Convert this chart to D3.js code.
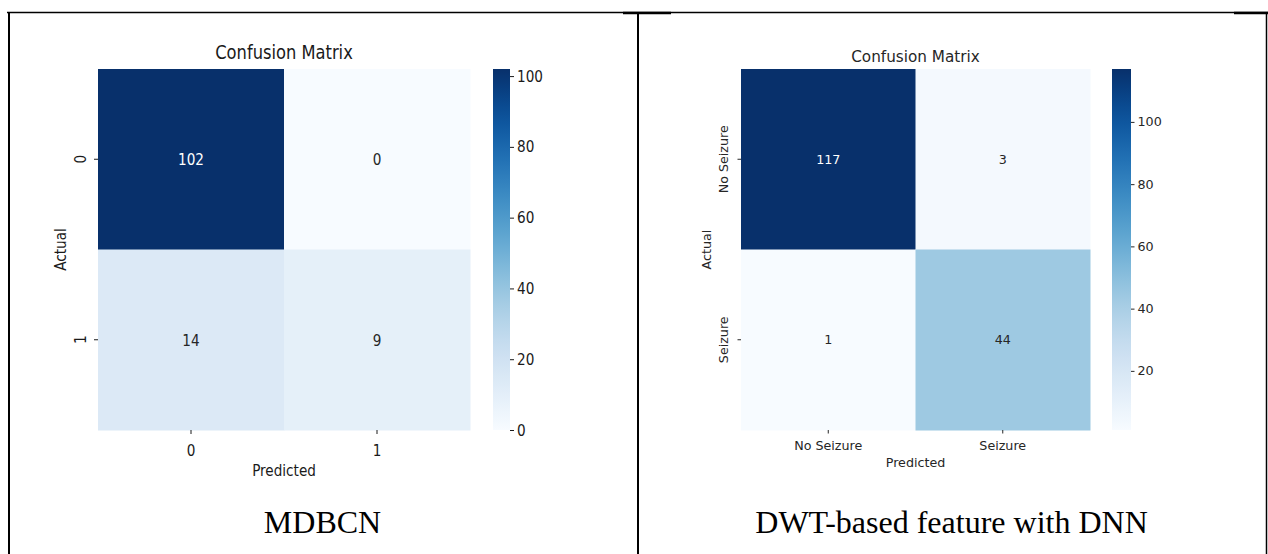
<!DOCTYPE html>
<html>
<head>
<meta charset="utf-8">
<script src="https://cdn.jsdelivr.net/npm/d3@7"></script>
<style>
  html, body { margin: 0; padding: 0; background: #fff; }
  svg { display: block; }
  text { font-family: "DejaVu Sans", sans-serif; }
  text.caption { font-family: "Liberation Serif", "Times New Roman", serif; }
</style>
</head>
<body>
<svg id="fig" width="1268" height="554"></svg>
<script>
// ---- data ----
const mdbcnClasses = ["0", "1"];
const mdbcnMatrix = [[102, 0], [14, 9]];
const mdbcnTicks = [0, 20, 40, 60, 80, 100];
const mdbcnRange = [0, 102];

const dwtClasses = ["No Seizure", "Seizure"];
const dwtMatrix = [[117, 3], [1, 44]];
const dwtTicks = [20, 40, 60, 80, 100];
const dwtRange = [1, 117];

const panelTitle = "Confusion Matrix";
const xLabel = "Predicted";
const yLabel = "Actual";
const captions = ["MDBCN", "DWT-based feature with DNN"];

const svg = d3.select("#fig");

// ---- table frame ----
const frame = svg.append("g").attr("stroke", "#000");
frame.append("line").attr("x1", 7).attr("x2", 1268).attr("y1", 12.5).attr("y2", 12.5).attr("stroke-width", 1.5);
frame.append("line").attr("x1", 9).attr("x2", 9).attr("y1", 12).attr("y2", 554).attr("stroke-width", 2);
frame.append("line").attr("x1", 638).attr("x2", 638).attr("y1", 12).attr("y2", 554).attr("stroke-width", 2);
frame.append("line").attr("x1", 1266.5).attr("x2", 1266.5).attr("y1", 12).attr("y2", 554).attr("stroke-width", 1.5);
frame.append("line").attr("x1", 623).attr("x2", 671).attr("y1", 13).attr("y2", 13).attr("stroke-width", 2.5);
frame.append("line").attr("x1", 1234).attr("x2", 1268).attr("y1", 13).attr("y2", 13).attr("stroke-width", 2.5);

// draws one seaborn-style heatmap panel
function heatmap(cfg) {
  const g = svg.append("g");
  const sx = cfg.sx; // horizontal squeeze of the text
  const textCol = cfg.textCol;

  const x = d3.scaleBand().domain(cfg.classes).range([cfg.x0, cfg.x1]);
  const y = d3.scaleBand().domain(cfg.classes).range([cfg.y0, cfg.y1]);
  const color = d3.scaleSequential(d3.interpolateBlues).domain(cfg.range);

  const cells = [];
  cfg.matrix.forEach((row, i) => row.forEach((v, j) => cells.push({r: cfg.classes[i], c: cfg.classes[j], v})));

  g.selectAll("rect.cell").data(cells).join("rect")
    .attr("class", "cell")
    .attr("x", d => x(d.c)).attr("y", d => y(d.r))
    .attr("width", x.bandwidth() + 0.5).attr("height", y.bandwidth() + 0.5)
    .attr("fill", d => color(d.v));

  const mid = (cfg.range[0] + cfg.range[1]) / 2;
  g.selectAll("text.ann").data(cells).join("text")
    .attr("class", "ann")
    .attr("transform", d => `translate(${x(d.c) + x.bandwidth() / 2},${y(d.r) + y.bandwidth() / 2}) scale(${sx},1)`)
    .attr("text-anchor", "middle").attr("dy", "0.36em")
    .attr("font-size", cfg.fs)
    .attr("fill", d => d.v > mid ? "#ffffff" : "#262626")
    .text(d => d.v);

  // x ticks
  const xt = g.append("g");
  cfg.classes.forEach(c => {
    const cx = x(c) + x.bandwidth() / 2;
    xt.append("line").attr("x1", cx).attr("x2", cx).attr("y1", cfg.y1).attr("y2", cfg.y1 + cfg.tick).attr("stroke", textCol).attr("stroke-width", 1);
    xt.append("text").attr("transform", `translate(${cx},${cfg.xTickY}) scale(${sx},1)`)
      .attr("text-anchor", "middle").attr("font-size", cfg.fs).attr("fill", textCol).text(c);
  });
  g.append("text").attr("transform", `translate(${(cfg.x0 + cfg.x1) / 2},${cfg.xLabelY}) scale(${sx},1)`)
    .attr("text-anchor", "middle").attr("font-size", cfg.fs).attr("fill", textCol).text(xLabel);

  // y ticks
  cfg.classes.forEach(c => {
    const cy = y(c) + y.bandwidth() / 2;
    xt.append("line").attr("x1", cfg.x0 - cfg.tick).attr("x2", cfg.x0).attr("y1", cy).attr("y2", cy).attr("stroke", textCol).attr("stroke-width", 1);
    xt.append("text").attr("transform", `translate(${cfg.yTickX},${cy}) rotate(-90) scale(${sx},1)`)
      .attr("text-anchor", "middle").attr("font-size", cfg.fs).attr("fill", textCol).text(c);
  });
  g.append("text").attr("transform", `translate(${cfg.yLabelX},${(cfg.y0 + cfg.y1) / 2}) rotate(-90) scale(${sx},1)`)
    .attr("text-anchor", "middle").attr("font-size", cfg.fs).attr("fill", textCol).text(yLabel);

  // title
  g.append("text").attr("transform", `translate(${(cfg.x0 + cfg.x1) / 2},${cfg.titleY}) scale(${sx},1)`)
    .attr("text-anchor", "middle").attr("font-size", cfg.fs * 1.2).attr("fill", textCol).text(panelTitle);

  // colorbar
  const gradId = "grad" + cfg.id;
  const grad = svg.append("defs").append("linearGradient").attr("id", gradId)
    .attr("x1", 0).attr("x2", 0).attr("y1", 1).attr("y2", 0);
  d3.range(0, 1.0001, 0.05).forEach(t => {
    grad.append("stop").attr("offset", t).attr("stop-color", color(cfg.range[0] + t * (cfg.range[1] - cfg.range[0])));
  });
  g.append("rect").attr("x", cfg.cb0).attr("y", cfg.y0).attr("width", cfg.cb1 - cfg.cb0).attr("height", cfg.y1 - cfg.y0)
    .attr("fill", `url(#${gradId})`);

  const cbScale = d3.scaleLinear().domain(cfg.range).range([cfg.y1, cfg.y0]);
  const axis = g.append("g").attr("transform", `translate(${cfg.cb1},0)`)
    .call(d3.axisRight(cbScale).tickValues(cfg.ticks).tickSize(cfg.tick).tickPadding(cfg.tickPad));
  axis.select(".domain").remove();
  axis.selectAll(".tick line").attr("stroke", textCol);
  axis.selectAll(".tick text")
    .attr("font-size", cfg.fs).attr("fill", textCol)
    .attr("transform", `scale(${sx},1)`)
    .attr("x", (cfg.tick + cfg.tickPad) / sx);
}

heatmap({
  id: 1, classes: mdbcnClasses, matrix: mdbcnMatrix, ticks: mdbcnTicks, range: mdbcnRange,
  x0: 98, x1: 470, y0: 69, y1: 430, cb0: 493, cb1: 510,
  fs: 16, sx: 0.85, tick: 4, tickPad: 3, textCol: "#1a1a1a",
  xTickY: 456, xLabelY: 476, yTickX: 86, yLabelX: 66, titleY: 59
});

heatmap({
  id: 2, classes: dwtClasses, matrix: dwtMatrix, ticks: dwtTicks, range: dwtRange,
  x0: 741, x1: 1090, y0: 69, y1: 430, cb0: 1112, cb1: 1131,
  fs: 12.7, sx: 1, tick: 3.5, tickPad: 3, textCol: "#262626",
  xTickY: 450, xLabelY: 467, yTickX: 728, yLabelX: 711, titleY: 62
});

// captions under each panel
svg.selectAll("text.caption").data(captions).join("text")
  .attr("class", "caption")
  .attr("x", (d, i) => [322.5, 951.5][i]).attr("y", 533)
  .attr("text-anchor", "middle")
  .attr("font-size", 32).attr("fill", "#000")
  .text(d => d);
</script>
</body>
</html>
